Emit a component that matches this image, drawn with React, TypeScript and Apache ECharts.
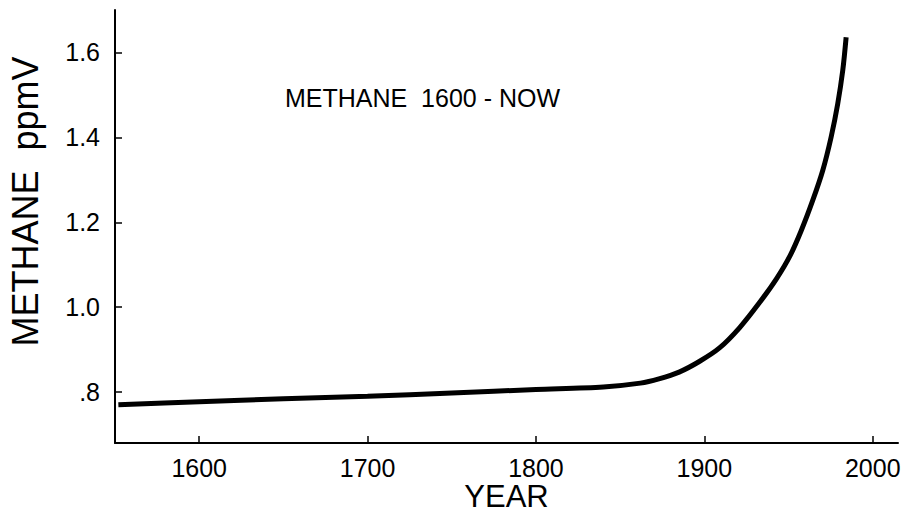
import React, { useEffect, useRef } from "react";
import * as echarts from "echarts";

const years = [1552, 1600, 1650, 1700, 1750, 1800, 1840, 1862, 1873, 1885, 1897, 1909, 1921, 1933, 1943, 1951, 1957.5, 1964.4, 1970.3, 1975.3, 1979.2, 1982.2, 1984.2];
const methane = [0.770, 0.777, 0.784, 0.790, 0.798, 0.806, 0.812, 0.821, 0.831, 0.847, 0.872, 0.904, 0.952, 1.012, 1.068, 1.122, 1.180, 1.252, 1.322, 1.401, 1.479, 1.558, 1.636];
const xTicks = [1600, 1700, 1800, 1900, 2000];
const yTicks = [0.8, 1.0, 1.2, 1.4, 1.6];
const chartTitle = "METHANE  1600 - NOW";
const xName = "YEAR";
const yName = "METHANE  ppmV";

const FONT = "'Liberation Sans', Arial, Helvetica, sans-serif";

export default function App() {
  const ref = useRef<HTMLDivElement>(null);
  useEffect(() => {
    if (!ref.current) return;
    const chart = echarts.init(ref.current, null, { renderer: "svg" });
    const data = years.map((y, i) => [y, methane[i]]);
    chart.setOption({
      animation: false,
      backgroundColor: "#ffffff",
      textStyle: { fontFamily: FONT },
      title: {
        text: chartTitle,
        left: 280,
        top: 80,
        textStyle: { fontFamily: FONT, fontSize: 25, fontWeight: "normal", color: "#000" },
      },
      grid: { left: 115, top: 10, right: 19, bottom: 72, containLabel: false, outerBoundsMode: "none" },
      xAxis: {
        type: "value",
        min: 1550,
        max: 2015,
        name: xName,
        nameLocation: "middle",
        nameMoveOverlap: false,
        nameGap: 38,
        nameTextStyle: { fontFamily: FONT, fontSize: 31, color: "#000", lineHeight: 31 },
        splitLine: { show: false },
        axisLine: { show: true, onZero: false, lineStyle: { color: "#000", width: 2 } },
        axisTick: { show: true, inside: true, length: 7, customValues: xTicks, lineStyle: { color: "#000", width: 1.5 } },
        axisLabel: { customValues: xTicks, margin: 12, fontFamily: FONT, fontSize: 25, color: "#000", formatter: (v: number) => String(v) },
      },
      yAxis: {
        type: "value",
        min: 0.68,
        max: 1.7,
        name: yName,
        nameLocation: "middle",
        nameMoveOverlap: false,
        nameRotate: 90,
        nameGap: 72,
        nameTextStyle: { fontFamily: FONT, fontSize: 36, color: "#000", padding: [0, 0, 0, 50] },
        splitLine: { show: false },
        axisLine: { show: true, onZero: false, lineStyle: { color: "#000", width: 2 } },
        axisTick: { show: true, inside: true, length: 7, customValues: yTicks, lineStyle: { color: "#000", width: 1.5 } },
        axisLabel: {
          customValues: yTicks,
          margin: 15,
          fontFamily: FONT,
          fontSize: 25,
          color: "#000",
          formatter: (v: number) => (Math.abs(v - 0.8) < 1e-6 ? ".8" : v.toFixed(1)),
        },
      },
      series: [
        {
          type: "line",
          data,
          smooth: 0.3,
          symbol: "none",
          lineStyle: { color: "#000", width: 5 },
        },
      ],
    });
    return () => chart.dispose();
  }, []);
  return <div ref={ref} style={{ position: "fixed", left: 0, top: 0, width: 917, height: 515 }} />;
}
